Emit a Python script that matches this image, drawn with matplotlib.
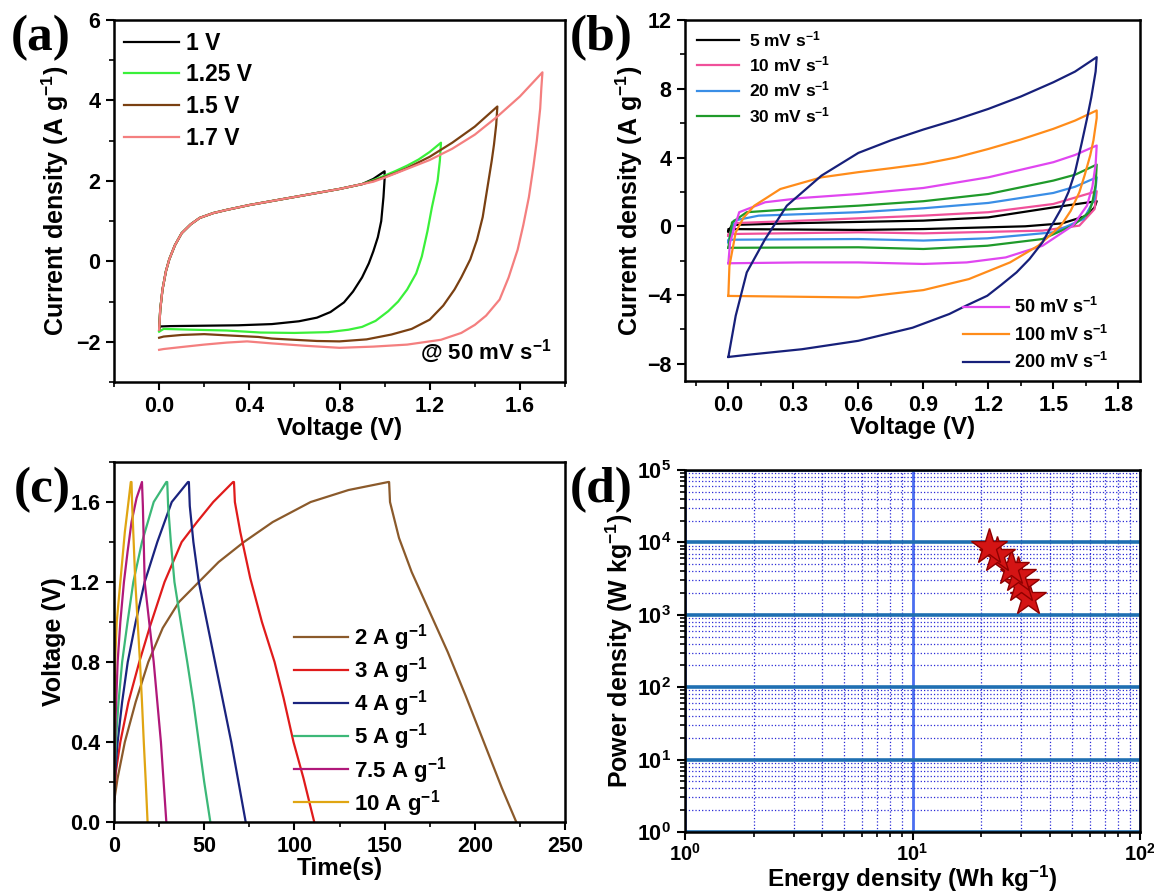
import matplotlib
matplotlib.use('Agg')
import matplotlib.pyplot as plt
from matplotlib.ticker import MultipleLocator, LogLocator, NullFormatter

# ---- (a) CV at 50 mV/s, different windows ----
a_up_v = [0.0, 0.005, 0.015, 0.03, 0.045, 0.07, 0.1, 0.14, 0.18, 0.24, 0.3, 0.4, 0.5, 0.6, 0.7, 0.8, 0.9]
a_up_i = [-1.7, -1.2, -0.7, -0.25, 0.05, 0.4, 0.7, 0.92, 1.08, 1.2, 1.28, 1.4, 1.5, 1.6, 1.7, 1.8, 1.92]

a1_v = a_up_v + [0.95, 1.0, 1.0, 0.995, 0.985, 0.97, 0.95, 0.93, 0.9, 0.86, 0.82, 0.76, 0.7, 0.62, 0.5, 0.35, 0.2, 0.05, 0.0, 0.0]
a1_i = a_up_i + [2.05, 2.24, 2.05, 1.6, 1.0, 0.6, 0.25, -0.05, -0.4, -0.75, -1.02, -1.26, -1.4, -1.49, -1.56, -1.59, -1.6, -1.61, -1.62, -1.7]

a2_v = a_up_v + [0.95, 1.0, 1.05, 1.1, 1.15, 1.2, 1.25, 1.245, 1.235, 1.21, 1.19, 1.165, 1.14, 1.1, 1.06, 1.016,
                 0.96, 0.9, 0.84, 0.75, 0.6, 0.45, 0.3, 0.15, 0.02, 0.0]
a2_i = a_up_i + [2.02, 2.13, 2.25, 2.38, 2.53, 2.72, 2.95, 2.5, 2.0, 1.35, 0.75, 0.12, -0.3, -0.7, -1.0, -1.24,
                 -1.48, -1.63, -1.7, -1.76, -1.78, -1.77, -1.72, -1.7, -1.68, -1.75]

a3_v = a_up_v + [0.95, 1.0, 1.05, 1.1, 1.2, 1.3, 1.4, 1.5, 1.495, 1.485, 1.475, 1.455, 1.435, 1.41, 1.38, 1.34, 1.31,
                 1.26, 1.2, 1.12, 1.03, 0.92, 0.8, 0.7, 0.6, 0.5, 0.44, 0.3, 0.2, 0.1, 0.02, 0.0]
a3_i = a_up_i + [2.0, 2.1, 2.2, 2.32, 2.6, 2.95, 3.35, 3.85, 3.4, 2.9, 2.5, 1.8, 1.1, 0.54, 0.05, -0.4, -0.7,
                 -1.1, -1.45, -1.68, -1.82, -1.94, -1.99, -1.98, -1.95, -1.92, -1.88, -1.84, -1.81, -1.83, -1.87, -1.9]

a4_v = a_up_v + [0.95, 1.0, 1.1, 1.2, 1.3, 1.4, 1.5, 1.6, 1.7, 1.695, 1.69, 1.675, 1.66, 1.64, 1.615, 1.59, 1.55,
                 1.51, 1.45, 1.4, 1.34, 1.25, 1.1, 0.95, 0.8, 0.65, 0.5, 0.39, 0.3, 0.2, 0.1, 0.02, 0.0]
a4_i = a_up_i + [1.98, 2.08, 2.3, 2.52, 2.8, 3.15, 3.6, 4.1, 4.7, 4.3, 3.8, 3.0, 2.36, 1.6, 0.9, 0.29, -0.4,
                 -0.95, -1.35, -1.58, -1.78, -1.95, -2.07, -2.12, -2.15, -2.1, -2.04, -1.99, -2.02, -2.07, -2.13, -2.18, -2.2]

a_labels = ['1 V', '1.25 V', '1.5 V', '1.7 V']
a_colors = ['black', '#3af03a', '#7a4012', '#f47f7f']

# ---- (b) CV at different scan rates ----
b5_v = [0.0, 0.017, 0.34, 0.9, 1.2, 1.5, 1.7, 1.69, 1.655, 1.54, 1.37, 0.9, 0.6, 0.0, 0.0]
b5_i = [-0.3, 0.08, 0.19, 0.33, 0.52, 1.1, 1.46, 1.1, 0.62, 0.17, 0.0, -0.16, -0.21, -0.16, -0.3]
b10_v = [0.0, 0.034, 0.34, 0.9, 1.2, 1.5, 1.7, 1.69, 1.62, 1.45, 0.9, 0.6, 0.0, 0.0]
b10_i = [-0.55, 0.19, 0.33, 0.62, 0.82, 1.3, 2.04, 1.0, 0.04, -0.25, -0.41, -0.35, -0.45, -0.55]
b20_v = [0.0, 0.026, 0.14, 0.6, 0.9, 1.2, 1.5, 1.6, 1.7, 1.69, 1.64, 1.5, 1.195, 0.9, 0.6, 0.0, 0.0]
b20_i = [-0.93, 0.33, 0.62, 0.82, 1.05, 1.36, 1.94, 2.3, 2.85, 1.59, 0.43, -0.35, -0.7, -0.83, -0.74, -0.78, -0.93]
b30_v = [0.0, 0.017, 0.085, 0.26, 0.6, 0.9, 1.2, 1.5, 1.6, 1.7, 1.695, 1.68, 1.665, 1.59, 1.45, 1.195, 0.9, 0.6, 0.0]
b30_i = [-1.25, 0.23, 0.82, 0.97, 1.2, 1.46, 1.88, 2.66, 3.0, 3.59, 2.4, 1.4, 0.82, 0.04, -0.74, -1.13, -1.32, -1.22, -1.25]
b50_v = [0.0, 0.008, 0.05, 0.17, 0.34, 0.6, 0.9, 1.2, 1.5, 1.6, 1.7, 1.695, 1.68, 1.655, 1.59, 1.45, 1.28, 1.1, 0.9,
         0.6, 0.34, 0.0]
b50_i = [-2.15, -0.93, 0.82, 1.4, 1.65, 1.88, 2.23, 2.85, 3.73, 4.15, 4.7, 3.6, 2.3, 1.2, 0.04, -1.13, -1.81, -2.1, -2.19,
         -2.1, -2.1, -2.15]
b100_v = [0.0, 0.005, 0.034, 0.07, 0.12, 0.24, 0.43, 0.6, 0.75, 0.9, 1.05, 1.2, 1.35, 1.5, 1.6, 1.7, 1.7, 1.685,
          1.67, 1.645, 1.62, 1.58, 1.535, 1.43, 1.3, 1.11, 0.9, 0.6, 0.34, 0.0]
b100_i = [-4.05, -2.3, -0.35, 0.5, 1.2, 2.17, 2.85, 3.15, 3.38, 3.63, 4.0, 4.5, 5.05, 5.67, 6.15, 6.74, 6.3, 5.0,
          4.12, 3.0, 1.98, 0.9, 0.04, -1.13, -2.1, -3.07, -3.71, -4.14, -4.1, -4.05]
b200_v = [0.0, 0.034, 0.085, 0.17, 0.27, 0.43, 0.6, 0.75, 0.9, 1.05, 1.2, 1.35, 1.5, 1.6, 1.7, 1.695, 1.675, 1.655,
          1.63, 1.6, 1.57, 1.535, 1.49, 1.45, 1.39, 1.33, 1.26, 1.195, 1.1, 1.02, 0.85, 0.6, 0.34, 0.085, 0.0]
b200_i = [-7.6, -5.2, -2.68, -0.74, 1.2, 2.95, 4.27, 5.0, 5.63, 6.2, 6.83, 7.55, 8.38, 9.0, 9.84, 9.0, 7.5, 6.25,
          4.8, 3.15, 2.0, 1.0, 0.0, -0.93, -1.9, -2.68, -3.4, -4.04, -4.6, -5.1, -5.9, -6.66, -7.15, -7.48, -7.6]

b_labels = ['5 mV s$^{-1}$', '10 mV s$^{-1}$', '20 mV s$^{-1}$', '30 mV s$^{-1}$',
            '50 mV s$^{-1}$', '100 mV s$^{-1}$', '200 mV s$^{-1}$']
b_colors = ['black', '#f0509a', '#3a8ee6', '#1f9a2a', '#e046f0', '#ff8c1a', '#17207a']

# ---- (c) GCD ----
c2_t = [0, 2, 6, 12, 19, 27, 36, 47, 58, 72, 88, 109, 130, 152, 152.5, 153, 158, 165, 175, 185, 195, 205, 215, 223]
c2_v = [0.1, 0.22, 0.4, 0.6, 0.8, 0.97, 1.1, 1.2, 1.3, 1.4, 1.5, 1.6, 1.66, 1.7, 1.7, 1.6, 1.42, 1.25, 1.05, 0.85,
        0.63, 0.4, 0.17, 0.0]
c3_t = [0, 1, 3.5, 8, 14, 20, 28, 37.5, 46, 55, 66, 66.5, 67, 70, 75.5, 82, 89, 94, 99.5, 105, 111]
c3_v = [0.1, 0.25, 0.4, 0.6, 0.8, 0.98, 1.2, 1.4, 1.5, 1.6, 1.7, 1.7, 1.6, 1.45, 1.22, 1.0, 0.8, 0.62, 0.4, 0.22, 0.0]
c4_t = [0, 0.7, 2, 4.5, 7.6, 12, 17, 24, 32, 41, 41.5, 42, 44, 47, 51.5, 56, 60.5, 65, 69, 73]
c4_v = [0.1, 0.25, 0.4, 0.6, 0.8, 1.0, 1.2, 1.4, 1.6, 1.7, 1.7, 1.58, 1.4, 1.2, 1.0, 0.8, 0.6, 0.4, 0.2, 0.0]
c5_t = [0, 0.4, 1, 2.5, 4.5, 7.5, 10.7, 15.5, 22, 29, 29.5, 30, 31.5, 33.5, 37, 40.6, 44, 47, 50, 53.4]
c5_v = [0.1, 0.25, 0.4, 0.6, 0.8, 1.0, 1.2, 1.4, 1.6, 1.7, 1.7, 1.58, 1.4, 1.2, 1.0, 0.8, 0.6, 0.4, 0.2, 0.0]
c75_t = [0, 0.3, 0.8, 2, 3.5, 5.5, 7.5, 9.7, 12.5, 15.5, 16, 17, 19.5, 22, 24, 26, 27.5, 29]
c75_v = [0.1, 0.3, 0.5, 0.8, 1.0, 1.2, 1.35, 1.5, 1.62, 1.7, 1.58, 1.2, 1.0, 0.8, 0.6, 0.4, 0.2, 0.0]
c10_t = [0, 0.2, 0.6, 1.5, 3.5, 6, 8, 9.3, 9.7, 10, 11.8, 13.1, 14.4, 15.5, 16.5, 17.6, 18.6]
c10_v = [0.1, 0.4, 0.8, 1.0, 1.2, 1.45, 1.6, 1.7, 1.7, 1.6, 1.2, 1.0, 0.8, 0.6, 0.4, 0.2, 0.0]

c_labels = ['2 A g$^{-1}$', '3 A g$^{-1}$', '4 A g$^{-1}$', '5 A g$^{-1}$', '7.5 A g$^{-1}$', '10 A g$^{-1}$']
c_colors = ['#8b5a2b', '#e01b1b', '#1a237e', '#3cb878', '#b0187a', '#e0a512']

# ---- (d) Ragone ----
energy = [32.2, 30.1, 29.1, 27.2, 23.4, 21.7]
power = [1690, 2580, 3550, 4380, 6700, 8720]

plt.rcParams['font.family'] = ['Liberation Sans', 'DejaVu Sans']
plt.rcParams['font.weight'] = 'bold'
plt.rcParams['axes.labelweight'] = 'bold'
plt.rcParams['mathtext.fontset'] = 'custom'
plt.rcParams['mathtext.default'] = 'bf'
plt.rcParams['mathtext.bf'] = 'Liberation Sans:bold'
plt.rcParams['mathtext.rm'] = 'Liberation Sans:bold'
plt.rcParams['axes.linewidth'] = 1.8

fig = plt.figure(figsize=(11.54, 8.94), dpi=100)
ax_a = fig.add_axes([0.0988, 0.5727, 0.3908, 0.4049])
ax_b = fig.add_axes([0.5936, 0.5738, 0.3943, 0.4038])
ax_c = fig.add_axes([0.0988, 0.0805, 0.3908, 0.4027])
ax_d = fig.add_axes([0.5936, 0.0694, 0.3943, 0.4049])


def style(ax):
    ax.tick_params(which='major', direction='out', length=6, width=1.5, labelsize=15.5, pad=4)
    ax.tick_params(which='minor', direction='out', length=3.5, width=1.2)
    ax.tick_params(top=False, right=False, which='both')


# (a)
for v, i, lab, col in zip([a1_v, a2_v, a3_v, a4_v], [a1_i, a2_i, a3_i, a4_i], a_labels, a_colors):
    ax_a.plot(v, i, color=col, lw=1.6, label=lab)
ax_a.set_xlim(-0.2, 1.8)
ax_a.set_ylim(-3, 6)
ax_a.set_xticks([0.0, 0.4, 0.8, 1.2, 1.6])
ax_a.xaxis.set_minor_locator(MultipleLocator(0.2))
ax_a.yaxis.set_major_locator(MultipleLocator(2))
ax_a.yaxis.set_minor_locator(MultipleLocator(1))
style(ax_a)
ax_a.set_xlabel('Voltage (V)', fontsize=17.5, labelpad=0)
ax_a.set_ylabel('Current density (A g$^{-1}$)', fontsize=18, labelpad=3)
ax_a.legend(loc='upper left', bbox_to_anchor=(0.022, 0.968), frameon=False, fontsize=16.5,
            handlelength=2.4, handletextpad=0.3, labelspacing=0.38, borderpad=0, borderaxespad=0)
ax_a.text(0.97, 0.045, '@ 50 mV s$^{-1}$', transform=ax_a.transAxes, ha='right', va='bottom', fontsize=16)

# (b)
b_v = [b5_v, b10_v, b20_v, b30_v, b50_v, b100_v, b200_v]
b_i = [b5_i, b10_i, b20_i, b30_i, b50_i, b100_i, b200_i]
lines_b = []
for v, i, lab, col in zip(b_v, b_i, b_labels, b_colors):
    ln, = ax_b.plot(v, i, color=col, lw=1.6, label=lab)
    lines_b.append(ln)
ax_b.set_xlim(-0.2, 1.9)
ax_b.set_ylim(-9, 12)
ax_b.set_xticks([0.0, 0.3, 0.6, 0.9, 1.2, 1.5, 1.8])
ax_b.xaxis.set_minor_locator(MultipleLocator(0.15))
ax_b.yaxis.set_major_locator(MultipleLocator(4))
ax_b.yaxis.set_minor_locator(MultipleLocator(2))
style(ax_b)
ax_b.set_xlabel('Voltage (V)', fontsize=17.5, labelpad=0)
ax_b.set_ylabel('Current density (A g$^{-1}$)', fontsize=18, labelpad=1)
leg1 = ax_b.legend(handles=lines_b[:4], loc='upper left', bbox_to_anchor=(0.026, 0.975), frameon=False,
                   fontsize=12.5, handlelength=2.4, handletextpad=0.6, labelspacing=0.32, borderpad=0,
                   borderaxespad=0)
ax_b.add_artist(leg1)
ax_b.legend(handles=lines_b[4:], loc='lower right', bbox_to_anchor=(0.93, 0.025), frameon=False,
            fontsize=13, handlelength=2.5, handletextpad=0.3, labelspacing=0.4, borderpad=0,
            borderaxespad=0)

# (c)
c_t = [c2_t, c3_t, c4_t, c5_t, c75_t, c10_t]
c_v = [c2_v, c3_v, c4_v, c5_v, c75_v, c10_v]
for t, v, lab, col in zip(c_t, c_v, c_labels, c_colors):
    ax_c.plot(t, v, color=col, lw=1.6, label=lab)
ax_c.set_xlim(0, 250)
ax_c.set_ylim(0, 1.8)
ax_c.xaxis.set_major_locator(MultipleLocator(50))
ax_c.xaxis.set_minor_locator(MultipleLocator(25))
ax_c.set_yticks([0.0, 0.4, 0.8, 1.2, 1.6])
ax_c.yaxis.set_minor_locator(MultipleLocator(0.2))
style(ax_c)
ax_c.set_xlabel('Time(s)', fontsize=17.5, labelpad=0)
ax_c.set_ylabel('Voltage (V)', fontsize=18, labelpad=3)
ax_c.legend(loc='upper left', bbox_to_anchor=(0.40, 0.555), frameon=False, fontsize=16,
            handlelength=2.4, handletextpad=0.3, labelspacing=0.1, borderpad=0, borderaxespad=0)

# (d)
ax_d.set_xscale('log')
ax_d.set_yscale('log')
ax_d.set_xlim(1, 100)
ax_d.set_ylim(1, 1e5)
ax_d.grid(which='minor', color='#2a2ad6', ls=':', lw=0.9)
ax_d.grid(which='major', axis='y', color='#1f6fb2', ls='-', lw=2.6)
ax_d.grid(which='major', axis='x', color='#4a6ef0', ls='-', lw=2.0)
ax_d.set_axisbelow(True)
ax_d.plot(energy, power, ls='none', marker='*', ms=27, mfc='#d41414', mec='#8e0000', mew=1.0, zorder=5)
ax_d.yaxis.set_minor_locator(LogLocator(base=10, subs=range(2, 10), numticks=20))
ax_d.xaxis.set_minor_locator(LogLocator(base=10, subs=range(2, 10), numticks=20))
ax_d.xaxis.set_minor_formatter(NullFormatter())
ax_d.yaxis.set_minor_formatter(NullFormatter())
style(ax_d)
ax_d.tick_params(axis='y', labelsize=15.5)
ax_d.tick_params(axis='x', labelsize=14.5, pad=2)
ax_d.set_xlabel('Energy density (Wh kg$^{-1}$)', fontsize=17.5, labelpad=-1)
ax_d.set_ylabel('Power density (W kg$^{-1}$)', fontsize=18, labelpad=1)

# panel letters
for x, y, s in [(0.009, 0.957, '(a)'), (0.494, 0.957, '(b)'), (0.012, 0.452, '(c)'), (0.494, 0.452, '(d)')]:
    fig.text(x, y, s, family='Liberation Serif', weight='bold', fontsize=37, va='center', ha='left')

fig.savefig('out.png', dpi=100)
